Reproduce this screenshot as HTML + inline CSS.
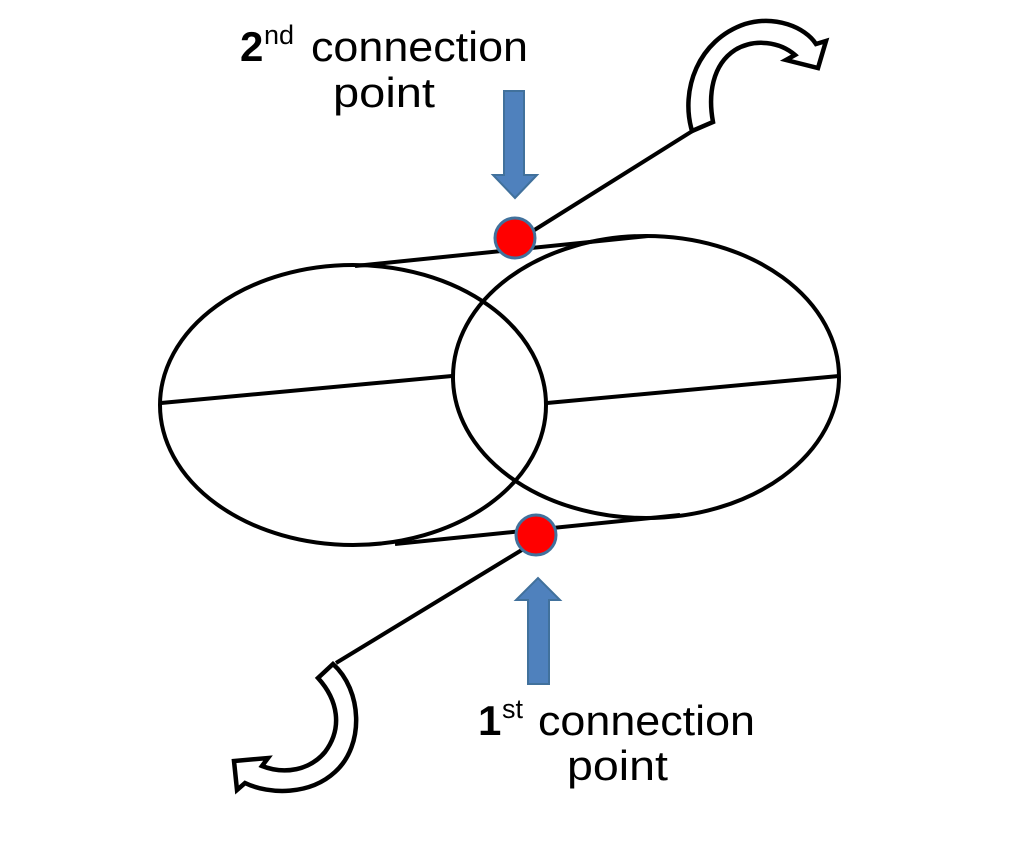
<!DOCTYPE html>
<html><head><meta charset="utf-8"><style>
html,body{margin:0;padding:0;background:#fff;}
svg{display:block;}
text{font-family:"Liberation Sans",sans-serif;fill:#000;}
</style></head><body>
<svg width="1024" height="844" viewBox="0 0 1024 844">
<rect width="1024" height="844" fill="#fff"/>
<g fill="none" stroke="#000" stroke-width="4">
<ellipse cx="353" cy="405" rx="193" ry="140"/>
<ellipse cx="646" cy="377" rx="193" ry="141"/>
<line x1="355" y1="266" x2="648" y2="236"/>
<line x1="395" y1="544" x2="680" y2="515"/>
<line x1="161" y1="403" x2="452" y2="376"/>
<line x1="547" y1="403" x2="839" y2="376"/>
<line x1="528" y1="234" x2="702" y2="125"/>
<line x1="530" y1="545" x2="336" y2="663"/>
</g>
<path d="M692,131 C680,90 698,40 745,24 C775,15 805,27 816,44 L826,41 L818,68 L786,60 L795,55 C780,42 755,38 735,50 C712,65 708,95 713,122 Z" fill="#fff" stroke="#000" stroke-width="4.5" stroke-linejoin="miter"/>
<path d="M333,664 C362,690 365,745 335,772 C310,795 270,795 245,783 L237,790 L234,761 L268,758 L262,766 C285,775 310,770 325,752 C343,728 338,700 318,678 Z" fill="#fff" stroke="#000" stroke-width="4.5" stroke-linejoin="miter"/>
<path d="M504,91 L524,91 L524,175 L537,175 L515,198 L493,175 L504,175 Z" fill="#4f81bd" stroke="#41719c" stroke-width="2"/>
<path d="M528,684 L549,684 L549,600 L560,600 L538,578 L516,600 L528,600 Z" fill="#4f81bd" stroke="#41719c" stroke-width="2"/>
<circle cx="515" cy="238" r="20" fill="#ff0000" stroke="#41719c" stroke-width="3"/>
<circle cx="536" cy="535" r="20" fill="#ff0000" stroke="#41719c" stroke-width="3"/>
<text x="240" y="61" font-size="42"><tspan font-weight="bold">2</tspan><tspan x="264" font-size="27" dy="-17">nd</tspan><tspan dy="17" x="311" textLength="217" lengthAdjust="spacingAndGlyphs">connection</tspan></text>
<text x="333" y="107" font-size="42" textLength="102" lengthAdjust="spacingAndGlyphs">point</text>
<text x="478" y="735" font-size="42"><tspan font-weight="bold">1</tspan><tspan x="502" font-size="27" dy="-17">st</tspan><tspan dy="17" x="538" textLength="217" lengthAdjust="spacingAndGlyphs">connection</tspan></text>
<text x="567" y="780" font-size="42" textLength="101" lengthAdjust="spacingAndGlyphs">point</text>
</svg>
</body></html>
